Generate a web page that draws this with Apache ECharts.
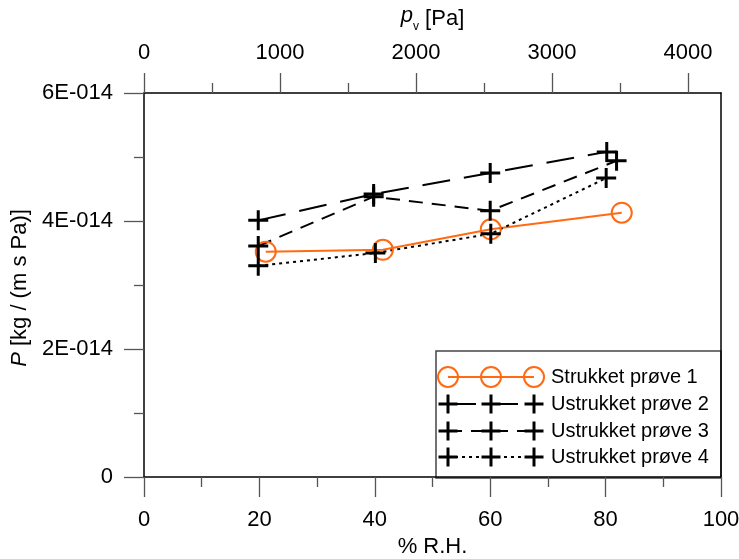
<!DOCTYPE html>
<html>
<head>
<meta charset="utf-8">
<title>Permeabilitet</title>
<script src="https://cdn.jsdelivr.net/npm/echarts@6/dist/echarts.min.js"></script>
<style>
  html, body { margin: 0; padding: 0; background: #fff; }
  #chart { width: 739px; height: 559px; }
</style>
</head>
<body>
<div id="chart"></div>
<script>
// Relative humidity (%) and vapour permeability P [kg/(m s Pa)] per sample
const rh1 = [21.1, 41.4, 60.1, 82.8];
const p1  = [3.52e-14, 3.55e-14, 3.87e-14, 4.13e-14];
const rh2 = [19.8, 39.8, 60.0, 80.2];
const p2  = [4.01e-14, 4.42e-14, 4.75e-14, 5.08e-14];
const rh3 = [19.8, 39.8, 60.0, 81.9];
const p3  = [3.61e-14, 4.38e-14, 4.16e-14, 4.94e-14];
const rh4 = [19.8, 40.1, 60.1, 80.1];
const p4  = [3.30e-14, 3.50e-14, 3.80e-14, 4.67e-14];

const seriesNames = ['Strukket prøve 1', 'Ustrukket prøve 2', 'Ustrukket prøve 3', 'Ustrukket prøve 4'];

// Axis ranges and ticks
const rhMin = 0, rhMax = 100, rhStep = 20;
const pvTickMax = 4000, pvStep = 1000;
const pvMax = 4243;           // vapour pressure at 100 % R.H.
const pMin = 0, pMax = 6e-14, pStep = 2e-14;

const FONT = 'Liberation Sans';
const ORANGE = '#FF6A13';
const TICK = '#555';

// Plot frame in pixels
const gridLeft = 144, gridRight = 18, gridTop = 93, gridBottom = 82;
const plotW = 739 - gridLeft - gridRight;
const plotH = 559 - gridTop - gridBottom;

const pairs = (xs, ys) => xs.map((x, i) => [x, ys[i]]);
const crossPath = 'path://M10 0 L10 20 M0 10 L20 10';

function fmtP(v) {
  if (v === 0) return '0';
  return Math.round(v * 1e14) + 'E-014';
}

const crossSeries = (name, xs, ys, dash, width) => ({
  name: name,
  type: 'line',
  xAxisIndex: 0,
  yAxisIndex: 0,
  data: pairs(xs, ys),
  symbol: crossPath,
  symbolSize: 20,
  itemStyle: { color: 'transparent', borderColor: '#000', borderWidth: 3 },
  lineStyle: { color: '#000', width: width, type: dash },
  emphasis: { disabled: true }
});

// Legend drawn as a framed box with three markers per entry
const legX = 436, legY = 351, legW = 285, legH = 127;
const rowY = [377, 404, 431, 457];
const mk = [448, 491, 534];
const legendChildren = [{
  type: 'rect',
  shape: { x: legX, y: legY, width: legW, height: legH },
  style: { fill: '#fff', stroke: '#444', lineWidth: 1.5 }
}];
const legendDash = [null, [28, 14], [14, 9], [3, 4]];
rowY.forEach((y, i) => {
  legendChildren.push({
    type: 'line',
    shape: { x1: mk[0], y1: y, x2: mk[2], y2: y },
    style: { stroke: i === 0 ? ORANGE : '#000', lineWidth: 2, lineDash: legendDash[i] }
  });
  mk.forEach(x => {
    if (i === 0) {
      legendChildren.push({
        type: 'circle',
        shape: { cx: x, cy: y, r: 10 },
        style: { fill: 'none', stroke: ORANGE, lineWidth: 2 }
      });
    } else {
      legendChildren.push({
        type: 'line', shape: { x1: x - 9.5, y1: y, x2: x + 9.5, y2: y },
        style: { stroke: '#000', lineWidth: 3 }
      });
      legendChildren.push({
        type: 'line', shape: { x1: x, y1: y - 9.5, x2: x, y2: y + 9.5 },
        style: { stroke: '#000', lineWidth: 3 }
      });
    }
  });
  legendChildren.push({
    type: 'text',
    x: 551, y: y,
    style: {
      text: seriesNames[i],
      fontFamily: FONT, fontSize: 20, fill: '#000',
      verticalAlign: 'middle', align: 'left'
    }
  });
});

const labelStyle = { fontFamily: FONT, fontSize: 22, color: '#000' };
const tickStyle = { color: TICK, width: 1.3 };
const frameLine = { show: true, onZero: false, lineStyle: { color: '#000', width: 1.5 } };

const option = {
  animation: false,
  backgroundColor: '#fff',
  grid: [
    { left: gridLeft, right: gridRight, top: gridTop, bottom: gridBottom,
      containLabel: false, outerBoundsMode: 'none' },
    // vapour-pressure scale: 0..4000 Pa over its share of the frame width
    { left: gridLeft, top: gridTop, width: plotW * pvTickMax / pvMax, height: plotH,
      containLabel: false, outerBoundsMode: 'none' }
  ],
  xAxis: [
    {
      type: 'value', gridIndex: 0, position: 'bottom',
      min: rhMin, max: rhMax, interval: rhStep,
      name: '% R.H.', nameLocation: 'middle', nameGap: 59,
      nameTextStyle: { fontFamily: FONT, fontSize: 22, color: '#000' },
      axisLine: frameLine,
      axisTick: { show: true, inside: false, length: 20, lineStyle: tickStyle },
      minorTick: { show: true, splitNumber: 2, length: 10, lineStyle: tickStyle },
      axisLabel: Object.assign({ margin: 32 }, labelStyle),
      splitLine: { show: false }, minorSplitLine: { show: false }
    },
    {
      // top frame edge carrying the axis title
      type: 'value', gridIndex: 0, position: 'top',
      min: 0, max: pvMax,
      name: '{i|p}{s|v} [Pa]', nameLocation: 'middle', nameGap: 60,
      nameTextStyle: {
        rich: {
          i: { fontFamily: FONT, fontSize: 22, fontStyle: 'italic', color: '#000', verticalAlign: 'top', lineHeight: 24 },
          s: { fontFamily: FONT, fontSize: 12, color: '#000', verticalAlign: 'bottom', lineHeight: 12 }
        },
        fontFamily: FONT, fontSize: 22, color: '#000', lineHeight: 28
      },
      axisLine: frameLine,
      axisTick: { show: false },
      axisLabel: { show: false },
      splitLine: { show: false }
    },
    {
      type: 'value', gridIndex: 1, position: 'top',
      min: 0, max: pvTickMax, interval: pvStep,
      axisLine: { show: false, onZero: false },
      axisTick: { show: true, inside: false, length: 20, lineStyle: tickStyle },
      minorTick: { show: true, splitNumber: 2, length: 10, lineStyle: tickStyle },
      axisLabel: Object.assign({ margin: 29, formatter: v => String(v) }, labelStyle),
      splitLine: { show: false }, minorSplitLine: { show: false }
    }
  ],
  yAxis: [
    {
      type: 'value', gridIndex: 0, position: 'left',
      min: pMin, max: pMax, interval: pStep,
      name: '{i|P} [kg / (m s Pa)]', nameLocation: 'middle', nameGap: 104, nameRotate: 90,
      nameTextStyle: {
        fontFamily: FONT, fontSize: 22, color: '#000', padding: [0, 6, 0, 0],
        rich: { i: { fontFamily: FONT, fontSize: 22, fontStyle: 'italic', color: '#000' } }
      },
      axisLine: frameLine,
      axisTick: { show: true, inside: false, length: 20, lineStyle: tickStyle },
      minorTick: { show: true, splitNumber: 2, length: 10, lineStyle: tickStyle },
      axisLabel: Object.assign({ margin: 31, formatter: fmtP }, labelStyle),
      splitLine: { show: false }, minorSplitLine: { show: false }
    },
    {
      type: 'value', gridIndex: 0, position: 'right',
      min: pMin, max: pMax,
      axisLine: frameLine,
      axisTick: { show: false }, axisLabel: { show: false }, splitLine: { show: false }
    },
    {
      type: 'value', gridIndex: 1, show: false,
      min: pMin, max: pMax
    }
  ],
  series: [
    {
      name: seriesNames[0],
      type: 'line',
      xAxisIndex: 0, yAxisIndex: 0,
      data: pairs(rh1, p1),
      symbol: 'circle',
      symbolSize: 20,
      itemStyle: { color: 'transparent', borderColor: ORANGE, borderWidth: 2 },
      lineStyle: { color: ORANGE, width: 2 },
      emphasis: { disabled: true },
      z: 3
    },
    crossSeries(seriesNames[1], rh2, p2, [28, 14], 2),
    crossSeries(seriesNames[2], rh3, p3, [14, 9], 2),
    crossSeries(seriesNames[3], rh4, p4, [3, 4], 2)
  ],
  graphic: [{ type: 'group', z: 100, children: legendChildren }]
};

const chart = echarts.init(document.getElementById('chart'), null, { renderer: 'canvas' });
chart.setOption(option);
</script>
</body>
</html>
